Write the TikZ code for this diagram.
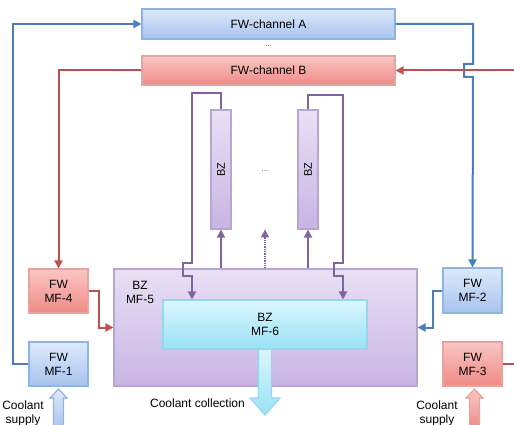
\documentclass[tikz,border=0pt]{standalone}
\usepackage{fontspec}
\setmainfont{Liberation Sans}
\usetikzlibrary{arrows.meta}
\definecolor{blEdge}{HTML}{8EB4E3}
\definecolor{blTop}{HTML}{DDE9FB}
\definecolor{blBot}{HTML}{A8C3EE}
\definecolor{rdEdge}{HTML}{E6A3A0}
\definecolor{rdTop}{HTML}{FAC6C3}
\definecolor{rdBot}{HTML}{EF8A86}
\definecolor{puEdge}{HTML}{B7A6D2}
\definecolor{puTop}{HTML}{E8E0F4}
\definecolor{puBot}{HTML}{C9B4E4}
\definecolor{cyEdge}{HTML}{93D8EC}
\definecolor{cyTop}{HTML}{DCF6FD}
\definecolor{cyBot}{HTML}{98E2F5}
\definecolor{blLine}{HTML}{4A7EBB}
\definecolor{rdLine}{HTML}{C0504D}
\definecolor{puLine}{HTML}{8064A2}
\tikzset{
  base/.style={draw, line width=1.1pt, inner sep=0pt, align=center, font=\fontsize{12}{14}\selectfont},
  bluebox/.style={base, draw=blEdge, top color=blTop, bottom color=blBot},
  redbox/.style={base, draw=rdEdge, top color=rdTop, bottom color=rdBot},
  purplebox/.style={base, draw=puEdge, top color=puTop, bottom color=puBot},
  cyanbox/.style={base, draw=cyEdge, top color=cyTop, bottom color=cyBot},
  mfbox/.style={minimum width=59pt, minimum height=44pt},
  chbox/.style={minimum width=253pt, minimum height=30pt},
  bzbox/.style={purplebox, minimum width=20pt, minimum height=119pt},
  conn/.style={line width=2pt, -{Triangle[length=8pt,width=8pt]}},
  bline/.style={conn, blLine},
  rline/.style={conn, rdLine},
  pline/.style={conn, puLine},
  txt/.style={font=\fontsize{12}{14}\selectfont, align=center, inner sep=0pt},
  dotstxt/.style={font=\fontsize{8}{8}\selectfont, inner sep=0pt, text=black!70},
}
\begin{document}
\begin{tikzpicture}[x=1pt,y=-1pt]
\clip (0,0) rectangle (514,425);
\useasboundingbox (0,0) rectangle (514,425);

% channels
\node[bluebox, chbox] (chA) at (268.5,24) {FW-channel A};
\node[dotstxt] (dotsA) at (268.5,46) {...};
\node[redbox, chbox, minimum height=29pt] (chB) at (268.5,70.5) {FW-channel B};

% breeding zone columns
\node[bzbox] (bz1) at (221,169.5) {};
\node[txt, rotate=90, font=\fontsize{11}{12}\selectfont] (bz1t) at (bz1.center) {BZ};
\node[bzbox] (bz2) at (308,169.5) {};
\node[txt, rotate=90, font=\fontsize{11}{12}\selectfont] (bz2t) at (bz2.center) {BZ};
\node[dotstxt] (dotsB) at (265,171) {...};

% manifolds
\node[purplebox, minimum width=303pt, minimum height=117pt] (mf5) at (265.5,327.5) {};
\node[txt, anchor=north] (mf5t) at (140,281) {BZ\\MF-5};
\node[cyanbox, minimum width=204pt, minimum height=49pt] (mf6) at (265,324.5) {BZ\\MF-6};
\node[redbox, mfbox] (mf4) at (58.5,291) {FW\\MF-4};
\node[bluebox, mfbox] (mf1) at (58.5,364) {FW\\MF-1};
\node[bluebox, mfbox, minimum height=45pt] (mf2) at (472.5,290.5) {FW\\MF-2};
\node[redbox, mfbox] (mf3) at (472.5,364) {FW\\MF-3};

% coolant block arrows
\filldraw[draw=blEdge, line width=1.1pt, top color=blTop, bottom color=blBot]
  (53.5,430) -- (53.5,398) -- (50,398) -- (58.5,389) -- (67,398) -- (63.5,398) -- (63.5,430) -- cycle;
\filldraw[draw=rdEdge, line width=1.1pt, top color=rdTop, bottom color=rdBot]
  (469.5,430) -- (469.5,398) -- (466,398) -- (474.5,389) -- (483,398) -- (479.5,398) -- (479.5,430) -- cycle;
\filldraw[draw=cyEdge, line width=1.1pt, top color=cyTop, bottom color=cyBot]
  (258.5,349.6) -- (258.5,398) -- (250,398) -- (265,415) -- (280,398) -- (271.5,398) -- (271.5,349.6) -- cycle;

\node[txt] (cs1) at (23,413) {Coolant\\supply};
\node[txt] (cs3) at (437,413) {Coolant\\supply};
\node[txt] (cc) at (197.5,403) {Coolant collection};

% blue circuit
\draw[bline] (mf1.west) -- ++(-15,0) |- (chA.west);
\coordinate (ahop1) at (473,64);
\coordinate (ahop2) at (473,77);
\draw[bline] (chA.east) -| (ahop1) -- ++(-9,0) -- ++(0,13) -- (ahop2) -- (mf2.north);
\draw[bline] (mf2.west) -- ++(-9,0) |- (mf5.east);

% red circuit
\draw[rline] (chB.west) -| (mf4.north);
\draw[rline] (mf4.east) -- ++(10,0) |- (mf5.west);
\draw[rline] (mf3.east) -- ++(40,0) |- (chB.east);

% purple circuit
\draw[pline] (bz1.south |- mf5.north) -- (bz1.south);
\draw[pline] (bz2.south |- mf5.north) -- (bz2.south);
\draw[pline, line width=1.3pt, densely dotted] (dotsB |- mf5.north) -- ++(0,-39);
\coordinate (p1) at (192,93);
\coordinate (p2) at (343,95);
\draw[pline] (bz1.north) |- (p1) -- (192,263) -- (183,263) -- (183,276) -- (192,276) -- (p1 |- mf6.north);
\draw[pline] (bz2.north) |- (p2) -- (343,263) -- (334,263) -- (334,276) -- (343,276) -- (p2 |- mf6.north);
\end{tikzpicture}
\end{document}
